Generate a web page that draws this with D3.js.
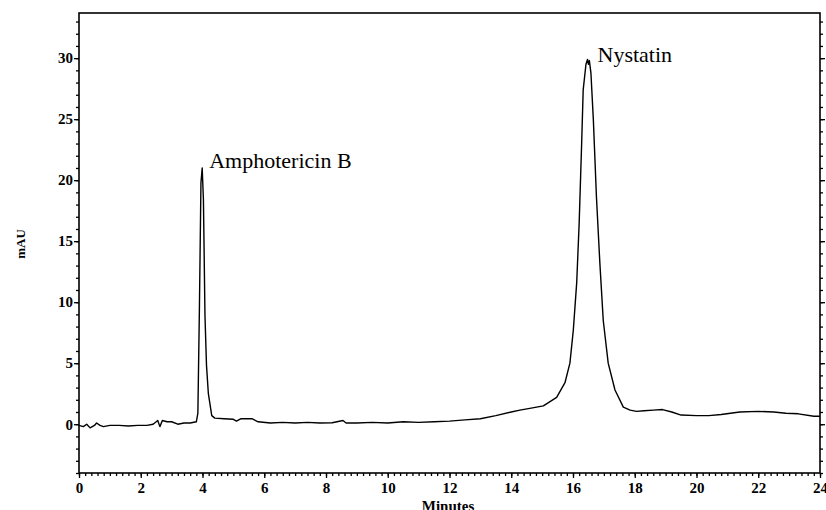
<!DOCTYPE html>
<html>
<head>
<meta charset="utf-8">
<script src="https://cdn.jsdelivr.net/npm/d3@7"></script>
<style>
  body { margin: 0; background: #fff; }
  svg { display: block; }
  .lbl { font-family: "Liberation Serif", "Times New Roman", serif; }
</style>
</head>
<body>
<div id="chart"></div>
<script>
// retention time (min) and signal (mAU)
var times = [0.00, 0.14, 0.25, 0.36, 0.50, 0.57, 0.68, 0.79, 1.00, 1.30, 1.60, 1.90, 2.20, 2.40, 2.55, 2.62, 2.70, 2.85, 3.00, 3.20, 3.40, 3.60, 3.80,
  3.85, 3.90, 3.95, 3.99, 4.03, 4.08, 4.13, 4.19, 4.30, 4.40, 4.70, 5.00, 5.10, 5.25, 5.60, 5.80, 6.20, 6.60, 7.00, 7.40, 7.80, 8.20, 8.55, 8.65,
  9.00, 9.50, 10.00, 10.50, 11.00, 11.50, 12.00, 12.50, 13.00, 13.50, 14.00, 14.28, 14.60, 15.04, 15.47, 15.74, 15.90, 16.01, 16.12, 16.20, 16.28,
  16.33, 16.42, 16.47, 16.50, 16.53, 16.58, 16.66, 16.76, 16.87, 16.98, 17.14, 17.36, 17.63, 17.85, 18.06, 18.30, 18.60, 18.90, 19.20, 19.50,
  20.00, 20.40, 20.80, 21.10, 21.40, 22.00, 22.50, 22.90, 23.30, 23.80, 24.00];
var signal = [-0.1, -0.2, 0.0, -0.3, -0.1, 0.1, -0.1, -0.2, -0.1, -0.1, -0.15, -0.1, -0.1, 0.0, 0.3, -0.2, 0.3, 0.2, 0.2, 0.0, 0.1, 0.1, 0.2,
  0.9, 9.5, 19.8, 21.0, 18.4, 8.9, 4.8, 2.5, 0.7, 0.5, 0.45, 0.4, 0.25, 0.45, 0.45, 0.2, 0.1, 0.15, 0.1, 0.15, 0.1, 0.12, 0.3, 0.1,
  0.1, 0.15, 0.1, 0.2, 0.15, 0.2, 0.25, 0.35, 0.45, 0.7, 1.0, 1.15, 1.3, 1.5, 2.2, 3.4, 5.0, 7.7, 11.6, 16.5, 23.0,
  27.4, 29.5, 29.9, 29.5, 29.8, 28.8, 24.9, 18.6, 13.2, 8.5, 5.0, 2.8, 1.4, 1.15, 1.05, 1.1, 1.15, 1.2, 1.0, 0.75,
  0.7, 0.7, 0.8, 0.9, 1.0, 1.05, 1.0, 0.9, 0.85, 0.65, 0.65];

var xTicks = [0, 2, 4, 6, 8, 10, 12, 14, 16, 18, 20, 22, 24];
var yTicks = [0, 5, 10, 15, 20, 25, 30];
var peakNames = ["Amphotericin B", "Nystatin"];
var peakTimes = [3.99, 16.47];
var peakValues = [21.0, 29.9];

var width = 826, height = 510;
var plotLeft = 79, plotRight = 820, plotTop = 13, plotBottom = 473;
var labelDx = [7, 10], labelDy = [0, 3];

var x = d3.scaleLinear().domain([0, 24]).range([plotLeft, plotRight]);
var y = d3.scaleLinear().domain([-4, 33.7]).range([plotBottom, plotTop]);

var svg = d3.select("#chart").append("svg")
    .attr("width", width)
    .attr("height", height);

// minor ticks
var xMinor = d3.range(0, 24.01, 0.2);
var yMinor = d3.range(-4, 34, 1);

svg.append("g").attr("transform", "translate(0," + plotBottom + ")")
    .call(d3.axisBottom(x).tickValues(xMinor).tickSize(3).tickFormat(""))
    .call(function(g) { g.select(".domain").remove(); });
svg.append("g").attr("transform", "translate(" + plotLeft + ",0)")
    .call(d3.axisLeft(y).tickValues(yMinor).tickSize(3).tickFormat(""))
    .call(function(g) { g.select(".domain").remove(); });
svg.append("g").attr("transform", "translate(" + plotRight + ",0)")
    .call(d3.axisRight(y).tickValues(yMinor).tickSize(3).tickFormat(""))
    .call(function(g) { g.select(".domain").remove(); });
svg.append("g").attr("transform", "translate(" + plotRight + ",0)")
    .call(d3.axisRight(y).tickValues(yTicks).tickSize(5).tickFormat(""))
    .call(function(g) { g.select(".domain").remove(); });

// major axes
var xAxis = svg.append("g").attr("transform", "translate(0," + plotBottom + ")")
    .call(d3.axisBottom(x).tickValues(xTicks).tickSize(5).tickPadding(4).tickFormat(d3.format("d")));
var yAxis = svg.append("g").attr("transform", "translate(" + plotLeft + ",0)")
    .call(d3.axisLeft(y).tickValues(yTicks).tickSize(5).tickPadding(1).tickFormat(d3.format("d")));

[xAxis, yAxis].forEach(function(g) {
  g.select(".domain").remove();
  g.selectAll("text")
    .attr("class", "lbl")
    .attr("font-size", 15)
    .attr("font-weight", "bold")
    .attr("fill", "#000");
});

svg.selectAll(".tick line").attr("stroke", "#000").attr("stroke-width", 1.3);

// frame
svg.append("rect")
    .attr("x", plotLeft).attr("y", plotTop)
    .attr("width", plotRight - plotLeft).attr("height", plotBottom - plotTop)
    .attr("fill", "none")
    .attr("stroke", "#000")
    .attr("stroke-width", 1.6);

// trace
var pts = times.map(function(t, i) { return [t, signal[i]]; });
var line = d3.line()
    .x(function(d) { return x(d[0]); })
    .y(function(d) { return y(d[1]); });

svg.append("path")
    .datum(pts)
    .attr("d", line)
    .attr("fill", "none")
    .attr("stroke", "#000")
    .attr("stroke-width", 1.4)
    .attr("stroke-linejoin", "round");

// peak labels
svg.selectAll(".peak")
    .data(peakNames)
    .enter()
    .append("text")
    .attr("class", "lbl")
    .attr("x", function(d, i) { return x(peakTimes[i]) + labelDx[i]; })
    .attr("y", function(d, i) { return y(peakValues[i]) + labelDy[i]; })
    .attr("font-size", 22)
    .attr("fill", "#000")
    .text(function(d) { return d; });

// axis titles
svg.append("text")
    .attr("class", "lbl")
    .attr("transform", "translate(25,244) rotate(-90)")
    .attr("text-anchor", "middle")
    .attr("font-size", 13)
    .attr("font-weight", "bold")
    .text("mAU");

svg.append("text")
    .attr("class", "lbl")
    .attr("x", 448)
    .attr("y", 511)
    .attr("text-anchor", "middle")
    .attr("font-size", 15)
    .attr("font-weight", "bold")
    .text("Minutes");
</script>
</body>
</html>
